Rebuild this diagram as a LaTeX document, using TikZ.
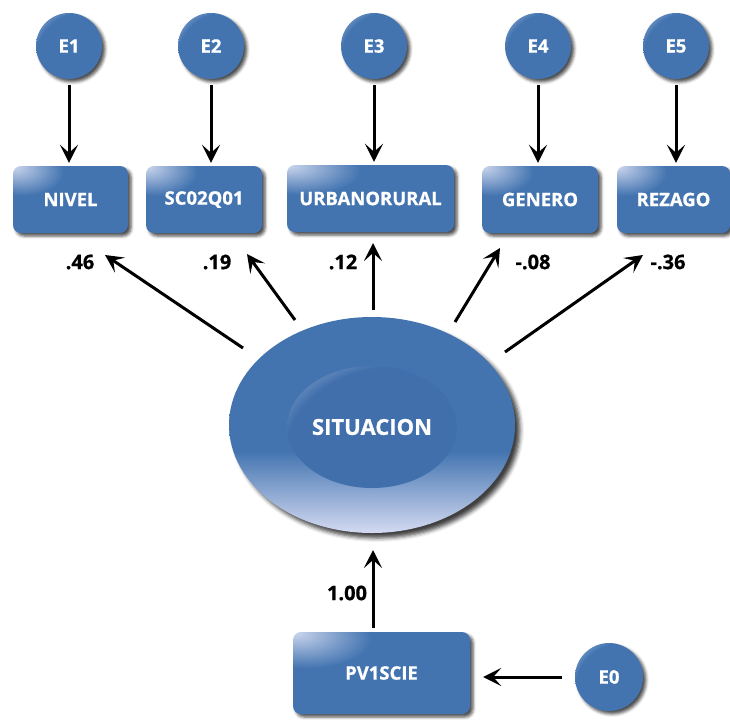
\documentclass[tikz,border=0pt]{standalone}
\usepackage{fontspec}
\setmainfont{Open Sans}[BoldFeatures={FakeBold=0.8}]
\usetikzlibrary{arrows.meta,shadows.blur,shapes.geometric}
\definecolor{base}{RGB}{67,116,176}
\definecolor{inbase}{RGB}{64,111,172}
\definecolor{hl}{RGB}{205,215,238}
\definecolor{elllow}{RGB}{212,218,242}
\pgfdeclareradialshading{glint}{\pgfpoint{15bp}{-15bp}}{color(0bp)=(base); color(35bp)=(base); color(43bp)=(base!45!hl); color(48bp)=(hl); color(100bp)=(hl)}
\pgfdeclareradialshading{inglint}{\pgfpoint{15bp}{-15bp}}{color(0bp)=(inbase); color(35bp)=(inbase); color(44bp)=(inbase!45!hl); color(48bp)=(hl); color(100bp)=(hl)}
\pgfdeclareradialshading{boxglint}{\pgfpoint{-25bp}{25bp}}{color(0bp)=(hl); color(18bp)=(base); color(110bp)=(base)}
\pgfdeclareverticalshading{ellshade}{100bp}{color(0bp)=(elllow); color(25bp)=(elllow); color(44bp)=(base); color(100bp)=(base)}
\tikzset{
  lab/.style={font=\bfseries\fontsize{18.5}{22}\selectfont},
  shad/.style={blur shadow={shadow xshift=3pt, shadow yshift=-3pt, shadow blur radius=3pt, shadow opacity=70}},
  ecirc/.style={circle, minimum size=66pt, inner sep=0pt, shade, shading=glint, text=white, lab, shad},
  vbox/.style={rectangle, rounded corners=8pt, minimum height=67pt, inner sep=0pt, shade, shading=boxglint, text=white, lab, shad},
  wlabel/.style={font=\bfseries\fontsize{20}{24}\selectfont, text=black},
  arr/.style={line width=3pt, -{Stealth[length=18pt, width=18pt, inset=8pt]}}
}
\begin{document}
\begin{tikzpicture}[x=1pt, y=-1pt]
\useasboundingbox (0,0) rectangle (730,723);
% error circles
\node[ecirc] (E1) at (69,46) {E1};
\node[ecirc] (E2) at (211,46) {E2};
\node[ecirc] (E3) at (374,46) {E3};
\node[ecirc] (E4) at (538,46) {E4};
\node[ecirc] (E5) at (676,46) {E5};
% observed boxes
\node[vbox, minimum width=115pt] (NIVEL) at (70.5,199.5) {NIVEL};
\node[vbox, minimum width=116pt] (SC) at (204,199.5) {SC02Q01};
\node[vbox, minimum width=167pt] (URB) at (370.5,198.5) {URBANORURAL};
\node[vbox, minimum width=116pt] (GEN) at (540,199.5) {GENERO};
\node[vbox, minimum width=113pt] (REZ) at (673.5,199.5) {REZAGO};
% latent
\node[ellipse, minimum width=286pt, minimum height=216pt, inner sep=0pt, shade, shading=ellshade,
      blur shadow={shadow xshift=5pt, shadow yshift=-5pt, shadow blur radius=4pt, shadow opacity=75}] (ell) at (372,425) {};
\node[ellipse, minimum width=162pt, minimum height=122pt, inner sep=0pt, shade, shading=inglint, text=white,
      font=\bfseries\fontsize{22}{26}\selectfont] (inner) at (372,427) {SITUACION};
% PV1SCIE and E0
\node[vbox, minimum width=177pt, minimum height=82pt] (PV) at (381.5,673) {PV1SCIE};
\node[ecirc, minimum size=68pt] (E0) at (609,677) {E0};
% arrows from errors
\foreach \e/\b in {E1/NIVEL, E2/SC, E3/URB, E4/GEN, E5/REZ}
  \draw[arr, shorten <=6pt, shorten >=3pt] (\e.south) -- (\e.south |- \b.north);
% loadings
\coordinate (s1) at (243,348); \coordinate (t1) at (105,255);
\coordinate (s2) at (295,320); \coordinate (t2) at (247,254);
\coordinate (s3) at (373,310); \coordinate (t3) at (373,243);
\coordinate (s4) at (455,322); \coordinate (t4) at (500,248);
\coordinate (s5) at (505,352); \coordinate (t5) at (643,255);
\foreach \i in {1,...,5} \draw[arr] (s\i) -- (t\i);
\coordinate (s6) at (373,628); \coordinate (t6) at (373,550);
\draw[arr] (s6) -- (t6);
\draw[arr, shorten <=13pt, shorten >=13pt] (E0.west) -- (PV.east |- E0.west);
% labels
\node[wlabel] (l1) at (80,262) {.46};
\node[wlabel] (l2) at (217,262) {.19};
\node[wlabel] (l3) at (343,262) {.12};
\node[wlabel] (l4) at (533,262) {-.08};
\node[wlabel] (l5) at (668,262) {-.36};
\node[wlabel] (l6) at (347,593) {1.00};
\end{tikzpicture}
\end{document}
